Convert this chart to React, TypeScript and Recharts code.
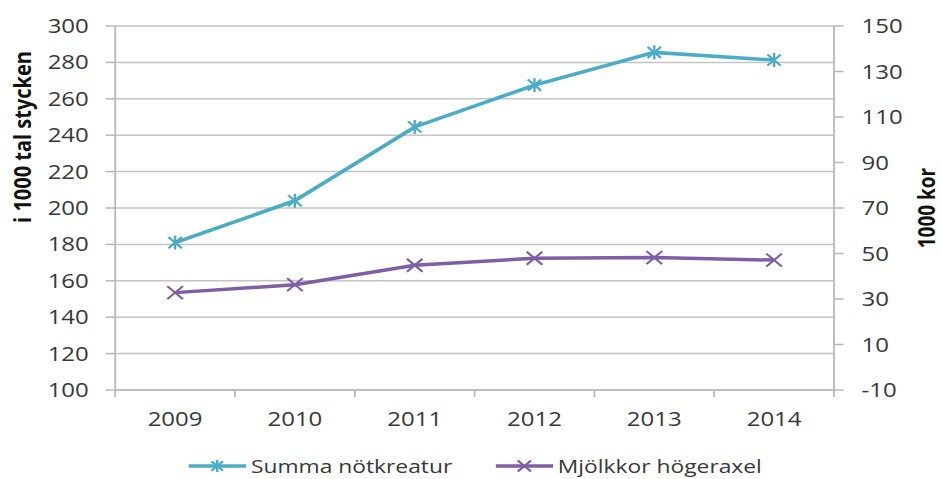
import React from 'react';
import { LineChart, Line, XAxis, YAxis, CartesianGrid, Legend } from 'recharts';

const years = ['2009', '2010', '2011', '2012', '2013', '2014'];
const summaNotkreatur = [181, 204, 244.5, 267.5, 285.5, 281.3];
const mjolkkor = [32.8, 36.3, 44.8, 47.9, 48.2, 47.1];
const leftTicks = [100, 120, 140, 160, 180, 200, 220, 240, 260, 280, 300];
const rightTicks = [-10, 10, 30, 50, 70, 90, 110, 130, 150];
const xTicks = [-0.5, 0, 0.5, 1, 1.5, 2, 2.5, 3, 3.5, 4, 4.5, 5, 5.5];
const seriesNames = ['Summa nötkreatur', 'Mjölkkor högeraxel'];
const leftTitle = 'i 1000 tal stycken';
const rightTitle = '1000 kor';

const data = years.map((y, i) => ({ x: i, year: y, summa: summaNotkreatur[i], mjolk: mjolkkor[i] }));

const SX = 1.2;
const W = 784;
const H = 479;
const FONT = '"Open Sans", sans-serif';
const TEXT = '#383838';
const GRID = '#c4c4c4';
const AXIS = '#b8b8b8';
const BLUE = '#4bacc6';
const PURPLE = '#7e5fa6';

const StarMark = ({ cx, cy, color, r = 7 }: any) => {
  const d = r * 0.8;
  return (
    <g stroke={color} strokeWidth={2}>
      <line x1={cx} y1={cy - r} x2={cx} y2={cy + r} />
      <line x1={cx - d} y1={cy - d} x2={cx + d} y2={cy + d} />
      <line x1={cx - d} y1={cy + d} x2={cx + d} y2={cy - d} />
    </g>
  );
};

const XMark = ({ cx, cy, color, r = 7 }: any) => (
  <g stroke={color} strokeWidth={2}>
    <line x1={cx - r} y1={cy - r} x2={cx + r} y2={cy + r} />
    <line x1={cx - r} y1={cy + r} x2={cx + r} y2={cy - r} />
  </g>
);

const TICK_OFF = 22;
const XTick = (props: any) => {
  const { x, y, payload } = props;
  const v = payload.value;
  if (Number.isInteger(v)) {
    return (
      <text x={x} y={y} dy="0.71em" textAnchor="middle" fill={TEXT} fontSize={20} fontFamily={FONT}>
        {years[v]}
      </text>
    );
  }
  const ay = y - TICK_OFF;
  return <line x1={x} x2={x} y1={ay} y2={ay + 7} stroke={AXIS} strokeWidth={1.5} />;
};

const LeftTitle = (props: any) => {
  const vb = props.viewBox || {};
  const cx = vb.x + 18;
  const cy = vb.y + 111;
  return (
    <text x={cx} y={cy} transform={`rotate(-90 ${cx} ${cy})`} textAnchor="middle" dominantBaseline="central"
      fontFamily={FONT} fontWeight="bold" fontSize={20} fill="#111">{leftTitle}</text>
  );
};

const RightTitle = (props: any) => {
  const vb = props.viewBox || {};
  const cx = vb.x + 77;
  const cy = vb.y + vb.height / 2;
  return (
    <text x={cx} y={cy} transform={`rotate(-90 ${cx} ${cy})`} textAnchor="middle" dominantBaseline="central"
      fontFamily={FONT} fontWeight="bold" fontSize={19} fill="#111">{rightTitle}</text>
  );
};

const renderLegend = () => (
  <div style={{ display: 'flex', justifyContent: 'center', alignItems: 'center', height: 30, paddingLeft: 8, boxSizing: 'border-box', fontFamily: FONT, fontSize: 19, color: TEXT, paddingTop: 3 }}>
    {seriesNames.map((name, i) => (
      <div key={name} style={{ display: 'flex', alignItems: 'center', marginRight: i === 0 ? 36 : 0, whiteSpace: 'nowrap' }}>
        <svg width={48} height={16} style={{ display: 'block' }}>
          <line x1={0} y1={8} x2={48} y2={8} stroke={i === 0 ? BLUE : PURPLE} strokeWidth={3.5} />
          {i === 0 ? <StarMark cx={24} cy={8} color={BLUE} r={6} /> : <XMark cx={24} cy={8} color={PURPLE} r={5.5} />}
        </svg>
        <span style={{ marginLeft: 4, lineHeight: '20px' }}>{name}</span>
      </div>
    ))}
  </div>
);

export default function App() {
  return (
    <div style={{ position: 'absolute', left: 0, top: 0, width: 941, height: 479, overflow: 'hidden', background: '#fff' }}>
      <div style={{ width: W, height: H, transform: `scaleX(${SX})`, transformOrigin: '0 0' }}>
        <LineChart width={W} height={H} data={data} margin={{ top: 26, right: 0, left: 0, bottom: 0 }}>
          <CartesianGrid vertical={false} stroke={GRID} strokeWidth={1.5} yAxisId="left" />
          <XAxis dataKey="x" type="number" domain={[-0.5, 5.5]} ticks={xTicks} interval={0}
            tick={<XTick />} tickLine={false} tickSize={8} tickMargin={14} height={59}
            axisLine={{ stroke: AXIS, strokeWidth: 1.5 }} allowDataOverflow />
          <YAxis yAxisId="left" orientation="left" width={96} domain={[100, 300]} ticks={leftTicks} interval={0}
            tickSize={8} tickMargin={14} axisLine={{ stroke: AXIS, strokeWidth: 1.5 }} tickLine={{ stroke: AXIS, strokeWidth: 1.5 }}
            tick={{ fill: TEXT, fontSize: 20, fontFamily: FONT }} label={(p: any) => <LeftTitle {...p} />} />
          <YAxis yAxisId="right" orientation="right" width={89} domain={[-10, 150]} ticks={rightTicks} interval={0}
            tickSize={8} tickMargin={15} axisLine={{ stroke: AXIS, strokeWidth: 1.5 }} tickLine={{ stroke: AXIS, strokeWidth: 1.5 }}
            tick={{ fill: TEXT, fontSize: 20, fontFamily: FONT }} label={(p: any) => <RightTitle {...p} />} />
          <Legend verticalAlign="bottom" content={renderLegend} />
          <Line yAxisId="left" dataKey="summa" name={seriesNames[0]} type="linear" stroke={BLUE} strokeWidth={3.5}
            isAnimationActive={false} dot={(p: any) => <StarMark key={`s${p.index}`} cx={p.cx} cy={p.cy} color={BLUE} />} activeDot={false} />
          <Line yAxisId="right" dataKey="mjolk" name={seriesNames[1]} type="linear" stroke={PURPLE} strokeWidth={3.5}
            isAnimationActive={false} dot={(p: any) => <XMark key={`m${p.index}`} cx={p.cx} cy={p.cy} color={PURPLE} r={6.5} />} activeDot={false} />
        </LineChart>
      </div>
    </div>
  );
}
